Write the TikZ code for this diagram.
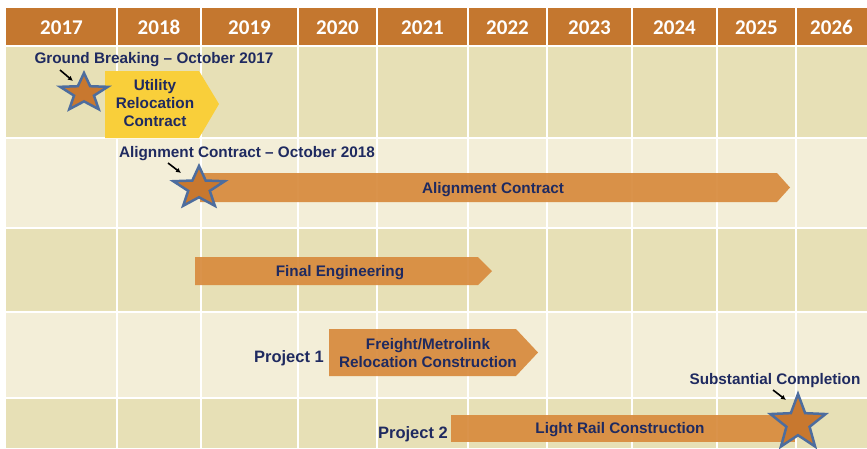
\documentclass[tikz,border=0pt]{standalone}
\usepackage{fontspec}
\setmainfont{Liberation Sans}
\newfontfamily\yearfont{Carlito}
\usetikzlibrary{arrows.meta}
\definecolor{hdr}{HTML}{C4772F}
\definecolor{rowtan}{HTML}{E7E0B6}
\definecolor{rowcream}{HTML}{F3EED8}
\definecolor{barorange}{HTML}{D88B3E}
\definecolor{baryellow}{HTML}{F9CF3A}
\definecolor{navy}{HTML}{1F2A60}
\definecolor{starfill}{HTML}{C8782F}
\definecolor{starline}{HTML}{4D6D9E}
\newcommand\drawstar[4]{%
  \pgfmathsetmacro\sxi{0.42*#3}\pgfmathsetmacro\syi{0.42*#4}%
  \draw[starsty,shift={(#1,#2)}] (-90:#3 and #4) -- (-54:\sxi\space and \syi) --
    (-18:#3 and #4) -- (18:\sxi\space and \syi) -- (54:#3 and #4) -- (90:\sxi\space and \syi) --
    (126:#3 and #4) -- (162:\sxi\space and \syi) -- (198:#3 and #4) -- (234:\sxi\space and \syi) -- cycle;}
\begin{document}
\begin{tikzpicture}[x=1pt,y=-1pt,
  yeartxt/.style={text=white,font=\yearfont\bfseries\fontsize{21}{24}\selectfont,inner sep=0,anchor=base},
  lbl/.style={text=navy,font=\bfseries\fontsize{15.3}{18}\selectfont,inner sep=0,align=center},
  slbl/.style={lbl,anchor=base},
  projlbl/.style={text=navy,font=\bfseries\fontsize{16.5}{19}\selectfont,inner sep=0,anchor=base},
  barsty/.style={fill=barorange,fill opacity=0.93,draw=none},
  starsty/.style={fill=starfill,draw=starline,line width=2.5pt,line join=miter},
  ptr/.style={-{Latex[length=5pt,width=5pt]},line width=1.6pt,black},
  grid/.style={white,line width=2pt}]
\useasboundingbox (0,0) rectangle (867,448);
\fill[white] (0,0) rectangle (867,448);
% header and rows
\fill[hdr] (6,8) rectangle (867,45);
\fill[rowtan] (6,47) rectangle (867,138);
\fill[rowcream] (6,138) rectangle (867,228);
\fill[rowtan] (6,228) rectangle (867,312);
\fill[rowcream] (6,312) rectangle (867,398);
\fill[rowtan] (6,398) rectangle (867,448);
\foreach \yy in {46,138,228,312,398} \draw[grid] (6,\yy) -- (867,\yy);
\foreach \xx in {117,201,298,377,468,547,632,717,796} \draw[grid] (\xx,8) -- (\xx,448);
% years
\foreach \xc/\yr in {61.5/2017,159/2018,249.5/2019,337.5/2020,422.5/2021,507.5/2022,589.5/2023,674.5/2024,756.5/2025,831.5/2026}
  \node[yeartxt] (y\yr) at (\xc,34.5) {\yr};
% bars
\fill[baryellow] (105,71) -- (199,71) -- (219,104) -- (199,138) -- (105,138) -- cycle;
\node[lbl] (util) at (155,103) {Utility\\Relocation\\Contract};
\fill[barsty] (200,173) -- (777,173) -- (790,187.5) -- (777,202) -- (200,202) -- cycle;
\node[slbl] (align) at (493,193.5) {Alignment Contract};
\fill[barsty] (195,257) -- (478,257) -- (492,271) -- (478,285) -- (195,285) -- cycle;
\node[slbl] (final) at (340,276.5) {Final Engineering};
\fill[barsty] (329,329) -- (516,329) -- (538,352.5) -- (516,376) -- (329,376) -- cycle;
\node[lbl] (freight) at (428,353) {Freight/Metrolink\\Relocation Construction};
\fill[barsty] (451,415) -- (795,415) -- (795,442) -- (451,442) -- cycle;
\node[slbl] (lrc) at (620,433.5) {Light Rail Construction};
% labels
\node[slbl] (gb) at (154,63.5) {Ground Breaking – October 2017};
\node[slbl] (ac) at (247,157.5) {Alignment Contract – October 2018};
\node[projlbl] (p1) at (289,362.5) {Project 1};
\node[projlbl] (p2) at (413,438) {Project 2};
\node[slbl] (sc) at (775,384.5) {Substantial Completion};
% stars
\drawstar{84}{93}{25}{20}
\drawstar{199}{188}{27}{22}
\drawstar{798}{423}{29}{29}
% pointers
\coordinate (a1s) at (60,70); \coordinate (a1e) at (73,81);
\coordinate (a2s) at (168,163); \coordinate (a2e) at (181,173);
\coordinate (a3s) at (773,390); \coordinate (a3e) at (786,400);
\draw[ptr] (a1s) -- (a1e);
\draw[ptr] (a2s) -- (a2e);
\draw[ptr] (a3s) -- (a3e);
\end{tikzpicture}
\end{document}
